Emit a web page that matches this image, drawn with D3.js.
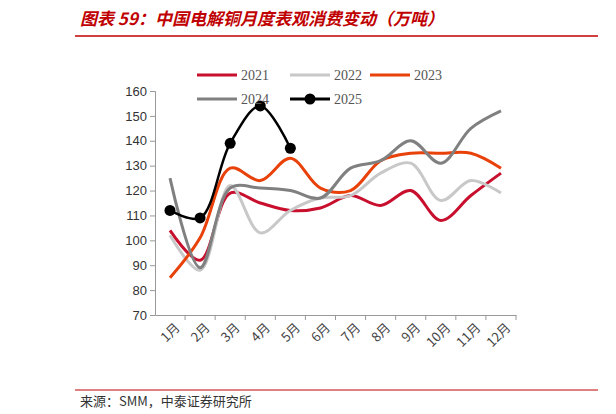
<!DOCTYPE html>
<html><head><meta charset="utf-8">
<script src="https://cdn.jsdelivr.net/npm/d3@7"></script>
<style>body{margin:0;background:#fff}</style>
</head><body><svg id="c" width="616" height="414"></svg>
<script>
var months = ["1月","2月","3月","4月","5月","6月","7月","8月","9月","10月","11月","12月"];
var yTicks = [70,80,90,100,110,120,130,140,150,160];
var years = ["2021","2022","2023","2024","2025"];
var colors = ["#c8102e","#c8c8c8","#e8410a","#808080","#000000"];
var v2021 = [104,92,119,115,112,113,118,114,120,108,118,127];
var v2022 = [102,88,122,103,112,117,118,127,131,116,124,119];
var v2023 = [85,101,129,124,133,121,120,132,135,135,135,129];
var v2024 = [125,89,121,121,120,117,129,132,140,131,145,152];
var v2025 = [112,109,139,154,137];
var series = [v2021,v2022,v2023,v2024,v2025];

var svg = d3.select("#c");
svg.append("text").attr("x",80).attr("y",25).attr("fill","#c00000")
  .style("font","italic bold 17px 'Noto Sans CJK SC'").text("图表 59：中国电解铜月度表观消费变动（万吨）");
svg.append("line").attr("x1",75).attr("x2",598).attr("y1",36).attr("y2",36).attr("stroke","#c00000").attr("stroke-width",1.5);
svg.append("line").attr("x1",75).attr("x2",598).attr("y1",390).attr("y2",390).attr("stroke","#c00000").attr("stroke-width",1);
svg.append("text").attr("x",80).attr("y",406).attr("fill","#333")
  .style("font","13px 'Noto Sans CJK SC'").text("来源：SMM，中泰证券研究所");

var x = d3.scalePoint().domain(months).range([170,501]).padding(0);
var xb = d3.scaleBand().domain(months).range([155,516]);
var y = d3.scaleLinear().domain([70,160]).range([315,91]);

var ya = svg.append("g").attr("transform","translate(155,0)")
  .call(d3.axisLeft(y).tickValues(yTicks).tickSize(5));
ya.selectAll("text").style("font","13px Arial").attr("fill","#333");
ya.selectAll("line,path").attr("stroke","#999");
var xa = svg.append("g").attr("transform","translate(0,315)")
  .call(d3.axisBottom(xb).tickSize(0));
xa.select("path").attr("stroke","#999");
xa.selectAll(".tick").append("line").attr("x1",xb.bandwidth()/2).attr("x2",xb.bandwidth()/2).attr("y2",5).attr("stroke","#999");
xa.selectAll("text").attr("transform","rotate(-45)").attr("text-anchor","end").attr("dx","-2").attr("dy","14")
  .style("font","13px 'Noto Sans CJK SC'").attr("fill","#444");

var line = d3.line().x((d,i)=>x(months[i])).y(d=>y(d)).curve(d3.curveCatmullRom);
series.forEach(function(s,k){
  svg.append("path").datum(s).attr("d",line).attr("fill","none")
    .attr("stroke",colors[k]).attr("stroke-width",k==4?2.5:3);
});
svg.selectAll(".dot").data(v2025).enter().append("circle")
  .attr("cx",(d,i)=>x(months[i])).attr("cy",d=>y(d)).attr("r",5.5).attr("fill","#000");

var lg = [[197,75],[290,75],[370,75],[197,99],[290,99]];
years.forEach(function(yr,k){
  var g = svg.append("g").attr("transform","translate("+lg[k][0]+","+lg[k][1]+")");
  g.append("line").attr("x1",0).attr("x2",40).attr("stroke",colors[k]).attr("stroke-width",3);
  if(k==4) g.append("circle").attr("cx",20).attr("r",5.5).attr("fill","#000");
  g.append("text").attr("x",44).attr("y",5).style("font","14px 'Liberation Serif'").attr("fill","#555").text(yr);
});
</script></body></html>
